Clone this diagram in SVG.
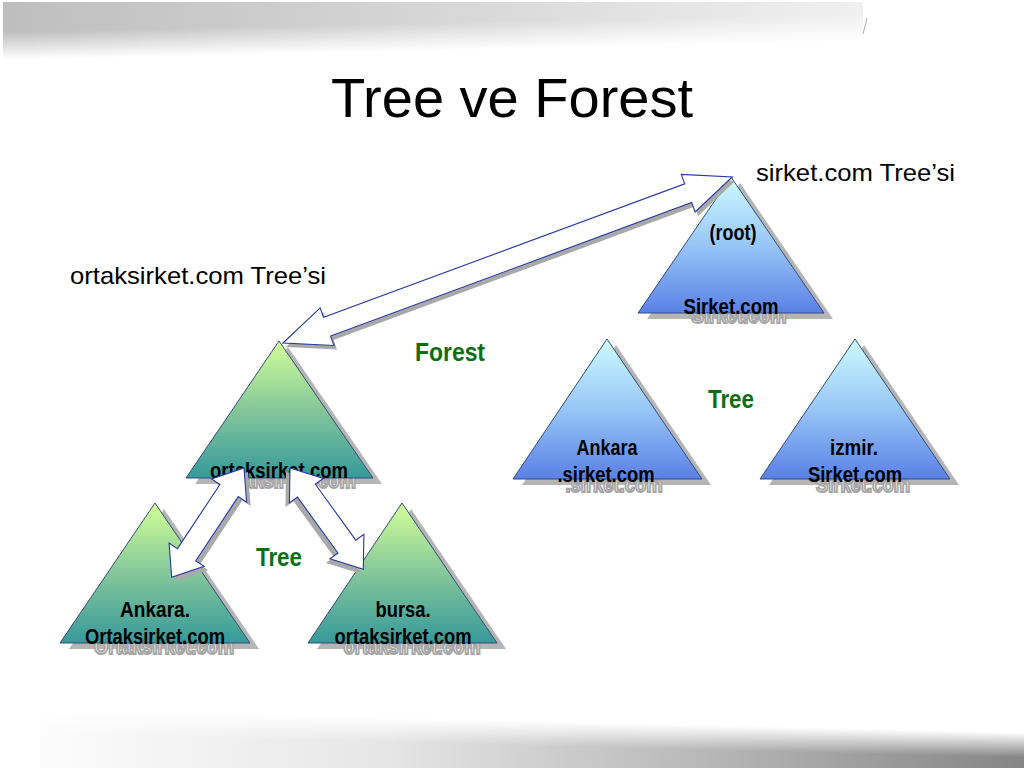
<svg xmlns="http://www.w3.org/2000/svg" xmlns:xlink="http://www.w3.org/1999/xlink" width="1024" height="768" viewBox="0 0 1024 768">
  <defs>
    <linearGradient id="topH" x1="0" y1="0" x2="1" y2="0">
      <stop offset="0" stop-color="#bebebe"/>
      <stop offset="0.5" stop-color="#d6d6d6"/>
      <stop offset="1" stop-color="#f0f0f0"/>
    </linearGradient>
    <linearGradient id="topFade" gradientUnits="userSpaceOnUse" x1="0" y1="32" x2="0.6" y2="60">
      <stop offset="0" stop-color="#ffffff" stop-opacity="0"/>
      <stop offset="1" stop-color="#ffffff" stop-opacity="1"/>
    </linearGradient>
    <linearGradient id="botH" x1="0" y1="0" x2="1" y2="0">
      <stop offset="0" stop-color="#fcfcfc"/>
      <stop offset="0.35" stop-color="#e6e6e6"/>
      <stop offset="0.7" stop-color="#b4b4b4"/>
      <stop offset="1" stop-color="#858585"/>
    </linearGradient>
    <linearGradient id="botFade" gradientUnits="userSpaceOnUse" x1="0" y1="708" x2="-0.6" y2="733">
      <stop offset="0" stop-color="#ffffff" stop-opacity="1"/>
      <stop offset="1" stop-color="#ffffff" stop-opacity="0"/>
    </linearGradient>
    <linearGradient id="gBlue" x1="0" y1="0" x2="0" y2="1">
      <stop offset="0" stop-color="#ccfbff"/>
      <stop offset="0.5" stop-color="#98c6f6"/>
      <stop offset="1" stop-color="#5a80e6"/>
    </linearGradient>
    <linearGradient id="gGreen" x1="0" y1="0" x2="0" y2="1">
      <stop offset="0" stop-color="#d2ff98"/>
      <stop offset="0.5" stop-color="#85c79a"/>
      <stop offset="1" stop-color="#36999a"/>
    </linearGradient>
    <path id="arrBig" transform="translate(283,343) rotate(-20.29)" d="M0,0 L47,-20 L47,-10 L432,-10 L432,-20 L479,0 L432,20 L432,10 L47,10 L47,20 Z"/>
    <path id="arrL" transform="translate(244,468) rotate(123.5)" d="M0,0 L27,-21 L27,-11 L104,-11 L104,-21 L131,0 L104,21 L104,11 L27,11 L27,21 Z"/>
    <path id="arrR" transform="translate(290,468) rotate(54.1)" d="M0,0 L28,-21 L28,-11 L97,-11 L97,-21 L125,0 L97,21 L97,11 L28,11 L28,21 Z"/>
  </defs>
  <style>
    .title { font-family: "Liberation Sans", Arial, sans-serif; font-size: 56px; fill: #000000; }
    .cap { font-family: "Liberation Sans", Arial, sans-serif; font-size: 24px; fill: #000000; }
    .green { font-family: "Liberation Sans", Arial, sans-serif; font-size: 26px; font-weight: bold; fill: #0d6e12; }
    .lbl { font-family: "Liberation Sans", Arial, sans-serif; font-size: 22px; font-weight: bold; fill: #000000; text-anchor: middle; }
    .wm { font-family: "Liberation Sans", Arial, sans-serif; font-size: 22px; font-weight: bold; fill: #f2f2f2; stroke: #a6a6a6; stroke-width: 2; text-anchor: middle; }
    .shadow { fill: #b5b5b5; }
    .tri { stroke: #344a7c; stroke-width: 1; }
    .blue { fill: url(#gBlue); }
    .grn { fill: url(#gGreen); }
    .ashadow { fill: #a9a9a9; stroke: none; }
    .arrow { fill: #ffffff; stroke: #2438a8; stroke-width: 1.1; stroke-linejoin: miter; }
  </style>

  <rect x="0" y="0" width="1024" height="768" fill="#ffffff"/>
  <g id="background">
    <rect x="3" y="2" width="860" height="64" fill="url(#topH)"/>
    <rect x="0" y="0" width="866" height="70" fill="url(#topFade)"/>
    <line x1="867" y1="18" x2="863" y2="34" stroke="#b0b0b0" stroke-width="1"/>
    <rect x="40" y="710" width="984" height="58" fill="url(#botH)"/>
    <rect x="0" y="700" width="1024" height="68" fill="url(#botFade)"/>
  </g>

  <text class="title" x="512" y="117" text-anchor="middle">Tree ve Forest</text>
  <text class="cap" x="756" y="181" textLength="199" lengthAdjust="spacingAndGlyphs">sirket.com Tree’si</text>
  <text class="cap" x="70" y="284" textLength="256" lengthAdjust="spacingAndGlyphs">ortaksirket.com Tree’si</text>
  <text class="green" x="415" y="361" textLength="70" lengthAdjust="spacingAndGlyphs">Forest</text>
  <text class="green" x="708" y="408" textLength="46" lengthAdjust="spacingAndGlyphs">Tree</text>
  <text class="green" x="256" y="566" textLength="46" lengthAdjust="spacingAndGlyphs">Tree</text>

  <g id="node-root">
    <polygon class="shadow" points="740,183 647,319 833,319"/>
    <text class="wm" x="739" y="323" textLength="95" lengthAdjust="spacingAndGlyphs">Sirket.com</text>
    <polygon class="tri blue" points="731,177 638,313 824,313"/>
    <text class="lbl" x="733" y="240" textLength="47" lengthAdjust="spacingAndGlyphs">(root)</text>
    <text class="lbl" x="731" y="314" textLength="95" lengthAdjust="spacingAndGlyphs">Sirket.com</text>
  </g>

  <g id="node-ortaksirket">
    <polygon class="shadow" points="288,347 195,484 382,484"/>
    <text class="wm" x="287" y="488" textLength="138" lengthAdjust="spacingAndGlyphs">ortaksirket.com</text>
    <polygon class="tri grn" points="279,341 186,478 373,478"/>
    <text class="lbl" x="279" y="478" textLength="138" lengthAdjust="spacingAndGlyphs">ortaksirket.com</text>
  </g>

  <g id="node-ankara-sirket">
    <polygon class="shadow" points="616,345 522,485 711,485"/>
    <text class="wm" x="614" y="492" textLength="97" lengthAdjust="spacingAndGlyphs">.sirket.com</text>
    <polygon class="tri blue" points="607,339 513,479 702,479"/>
    <text class="lbl" x="607" y="455" textLength="61" lengthAdjust="spacingAndGlyphs">Ankara</text>
    <text class="lbl" x="606" y="482" textLength="97" lengthAdjust="spacingAndGlyphs">.sirket.com</text>
  </g>

  <g id="node-izmir-sirket">
    <polygon class="shadow" points="864,345 769,485 959,485"/>
    <text class="wm" x="863" y="492" textLength="94" lengthAdjust="spacingAndGlyphs">Sirket.com</text>
    <polygon class="tri blue" points="855,339 760,479 950,479"/>
    <text class="lbl" x="854" y="455" textLength="48" lengthAdjust="spacingAndGlyphs">izmir.</text>
    <text class="lbl" x="855" y="482" textLength="94" lengthAdjust="spacingAndGlyphs">Sirket.com</text>
  </g>

  <g id="node-ankara-ortaksirket">
    <polygon class="shadow" points="164,509 69,649 259,649"/>
    <text class="wm" x="164" y="654" textLength="140" lengthAdjust="spacingAndGlyphs">Ortaksirket.com</text>
    <polygon class="tri grn" points="155,503 60,643 250,643"/>
    <text class="lbl" x="155" y="617" textLength="70" lengthAdjust="spacingAndGlyphs">Ankara.</text>
    <text class="lbl" x="155" y="644" textLength="140" lengthAdjust="spacingAndGlyphs">Ortaksirket.com</text>
  </g>

  <g id="node-bursa-ortaksirket">
    <polygon class="shadow" points="411,509 317,649 506,649"/>
    <text class="wm" x="412" y="654" textLength="137" lengthAdjust="spacingAndGlyphs">ortaksirket.com</text>
    <polygon class="tri grn" points="402,503 308,643 497,643"/>
    <text class="lbl" x="403" y="617" textLength="55" lengthAdjust="spacingAndGlyphs">bursa.</text>
    <text class="lbl" x="403" y="644" textLength="137" lengthAdjust="spacingAndGlyphs">ortaksirket.com</text>
  </g>

  <g id="connectors">
    <use xlink:href="#arrBig" href="#arrBig" class="ashadow" transform="translate(3,4)"/>
    <use xlink:href="#arrBig" href="#arrBig" class="arrow"/>
    <use xlink:href="#arrL" href="#arrL" class="ashadow" transform="translate(4,4)"/>
    <use xlink:href="#arrL" href="#arrL" class="arrow"/>
    <use xlink:href="#arrR" href="#arrR" class="ashadow" transform="translate(-4,4)"/>
    <use xlink:href="#arrR" href="#arrR" class="arrow"/>
  </g>
</svg>
